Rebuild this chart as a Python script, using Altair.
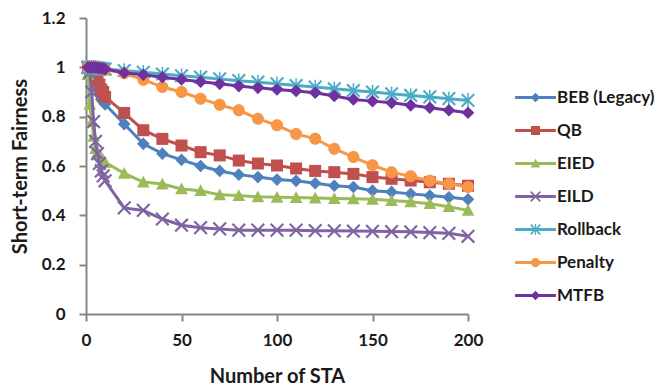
import altair as alt
import pandas as pd

# Number of stations (x positions of every series)
sta = [1, 2, 3, 4, 5, 6, 7, 8, 9, 10,
       20, 30, 40, 50, 60, 70, 80, 90, 100,
       110, 120, 130, 140, 150, 160, 170, 180, 190, 200]

# Short-term fairness per scheme
beb = [1.0, 0.99, 0.97, 0.95, 0.93, 0.91, 0.89, 0.87, 0.86, 0.85,
       0.77, 0.69, 0.65, 0.625, 0.6, 0.58, 0.565, 0.555, 0.545,
       0.54, 0.53, 0.52, 0.515, 0.5, 0.495, 0.487, 0.48, 0.473, 0.465]
qb = [1.0, 0.99, 0.98, 0.97, 0.96, 0.95, 0.93, 0.91, 0.9, 0.88,
      0.815, 0.745, 0.71, 0.683, 0.656, 0.643, 0.622, 0.61, 0.602,
      0.59, 0.58, 0.575, 0.568, 0.555, 0.548, 0.541, 0.534, 0.528, 0.52]
eied = [0.97, 0.85, 0.78, 0.72, 0.67, 0.655, 0.645, 0.635, 0.625, 0.615,
        0.57, 0.535, 0.527, 0.507, 0.5, 0.483, 0.48, 0.475, 0.473,
        0.472, 0.47, 0.468, 0.467, 0.465, 0.46, 0.455, 0.447, 0.435, 0.42]
eild = [1.0, 0.98, 0.9, 0.78, 0.7, 0.65, 0.61, 0.58, 0.56, 0.54,
        0.43, 0.42, 0.385, 0.36, 0.35, 0.345, 0.34, 0.34, 0.34,
        0.34, 0.338, 0.337, 0.336, 0.335, 0.334, 0.333, 0.33, 0.327, 0.315]
rollback = [1.0, 1.0, 1.0, 1.0, 0.998, 0.997, 0.996, 0.995, 0.994, 0.993,
            0.987, 0.98, 0.973, 0.966, 0.96, 0.953, 0.946, 0.94, 0.933,
            0.926, 0.92, 0.913, 0.906, 0.9, 0.893, 0.886, 0.88, 0.873, 0.866]
penalty = [1.0, 1.0, 1.0, 1.0, 1.0, 0.998, 0.997, 0.995, 0.993, 0.99,
           0.976, 0.95, 0.92, 0.9, 0.873, 0.848, 0.826, 0.792, 0.765,
           0.73, 0.71, 0.67, 0.636, 0.603, 0.575, 0.558, 0.54, 0.528, 0.515]
mtfb = [1.0, 1.0, 1.0, 1.0, 1.0, 0.998, 0.997, 0.996, 0.995, 0.993,
        0.978, 0.97, 0.96, 0.951, 0.942, 0.933, 0.924, 0.917, 0.91,
        0.904, 0.897, 0.884, 0.87, 0.863, 0.856, 0.846, 0.836, 0.826, 0.816]

names = ["BEB (Legacy)", "QB", "EIED", "EILD", "Rollback", "Penalty", "MTFB"]
values = [beb, qb, eied, eild, rollback, penalty, mtfb]
colors = ["#4F81BD", "#C0504D", "#9BBB59", "#8064A2", "#4BACC6", "#F79646", "#7030A0"]
series_marker = ["diamond", "square", "triangle", "x", "asterisk", "circle", "diamond"]


# Marker outlines in unit coordinates, scaled by k; every sub-path is wound
# clockwise so overlapping parts fill as a union.
def f(v):
    return f"{v:.3f}"


def poly(pts):
    return "M" + "L".join(f"{f(x)},{f(y)}" for x, y in pts) + "Z"


def marker_path(kind, k):
    if kind == "diamond":
        return poly([(0, -k), (k, 0), (0, k), (-k, 0)])
    if kind == "square":
        s = 0.95 * k
        return poly([(-s, -s), (s, -s), (s, s), (-s, s)])
    if kind == "triangle":
        return poly([(0, -k), (k, 0.85 * k), (-k, 0.85 * k)])
    if kind == "circle":
        r = 0.95 * k
        return (f"M{f(-r)},0A{f(r)},{f(r)} 0 1 1 {f(r)},0"
                f"A{f(r)},{f(r)} 0 1 1 {f(-r)},0Z")
    d = 0.12 * k
    bars = (poly([(-k + d, -k - d), (k + d, k - d), (k - d, k + d), (-k - d, -k + d)])
            + poly([(-k + d, k + d), (-k - d, k - d), (k - d, -k - d), (k + d, -k + d)]))
    if kind == "x":
        return bars
    w, h = 0.12 * k, 1.15 * k
    return bars + poly([(-w, -h), (w, -h), (w, h), (-w, h)])


plot_paths = [marker_path(m, 1.0) for m in series_marker]
# legend glyph: a short line with the marker in its middle
legend_line = poly([(-3.4, -0.26), (3.4, -0.26), (3.4, 0.26), (-3.4, 0.26)])
legend_paths = [legend_line + marker_path(m, 0.8) for m in series_marker]

rows = []
for name, vals in zip(names, values):
    for s, v in zip(sta, vals):
        rows.append({"sta": s, "fairness": v, "series": name})
df = pd.DataFrame(rows)

font = "Lato"
x_enc = alt.X("sta:Q", scale=alt.Scale(domain=[0, 200], nice=False),
              axis=alt.Axis(values=[0, 50, 100, 150, 200], title="Number of STA",
                            titleY=68, titleBaseline="alphabetic", labelFlush=False))
y_enc = alt.Y("fairness:Q", scale=alt.Scale(domain=[0, 1.2], nice=False),
              axis=alt.Axis(values=[0, 0.2, 0.4, 0.6, 0.8, 1.0, 1.2], format=".1~f",
                            title="Short-term Fairness", titleX=-60,
                            titleBaseline="alphabetic"))
color_scale = alt.Scale(domain=names, range=colors)

base = alt.Chart(df)
layers = []
for name in names:
    sub = base.transform_filter(alt.datum.series == name)
    layers.append(
        sub.mark_line(strokeWidth=3).encode(
            x=x_enc, y=y_enc,
            color=alt.Color("series:N", scale=color_scale, legend=None),
        )
    )
    layers.append(
        sub.mark_point(filled=True, opacity=1, size=160).encode(
            x=x_enc, y=y_enc,
            color=alt.Color("series:N", scale=color_scale, legend=None),
            shape=alt.Shape("series:N", scale=alt.Scale(domain=names, range=plot_paths),
                            legend=None),
        )
    )

legend_spec = dict(title=None, orient="none", legendX=441, legendY=71)
legend_layer = base.transform_filter("false").mark_point(filled=True, opacity=1).encode(
    color=alt.Color("series:N", scale=color_scale, legend=alt.Legend(**legend_spec)),
    shape=alt.Shape("series:N", scale=alt.Scale(domain=names, range=legend_paths),
                    legend=alt.Legend(**legend_spec)),
)
layers.append(legend_layer)

chart = (
    alt.layer(*layers)
    .resolve_scale(color="independent", shape="independent")
    .properties(
        width=382, height=296,
        autosize=alt.AutoSizeParams(type="none"),
        padding={"left": 86, "top": 18, "right": 190, "bottom": 73},
        background="white",
    )
    .configure_view(strokeWidth=0)
    .configure_axis(
        grid=False, domainColor="#868686", domainWidth=2, tickColor="#868686",
        tickWidth=2, tickSize=7, labelFont=font, labelFontSize=17, labelFontWeight="bold",
        labelColor="#1a1a1a", titleFont=font, titleFontSize=20, titleFontWeight="bold",
        titleColor="#1a1a1a",
    )
    .configure_axisX(labelPadding=11)
    .configure_axisY(labelPadding=14)
    .configure_legend(
        labelFont=font, labelFontSize=17, labelFontWeight="bold", labelColor="#1a1a1a",
        symbolSize=144, symbolStrokeWidth=0, labelOffset=13, rowPadding=15, padding=0,
    )
)

chart.save("out.html", embed_options={"renderer": "svg", "actions": False})
